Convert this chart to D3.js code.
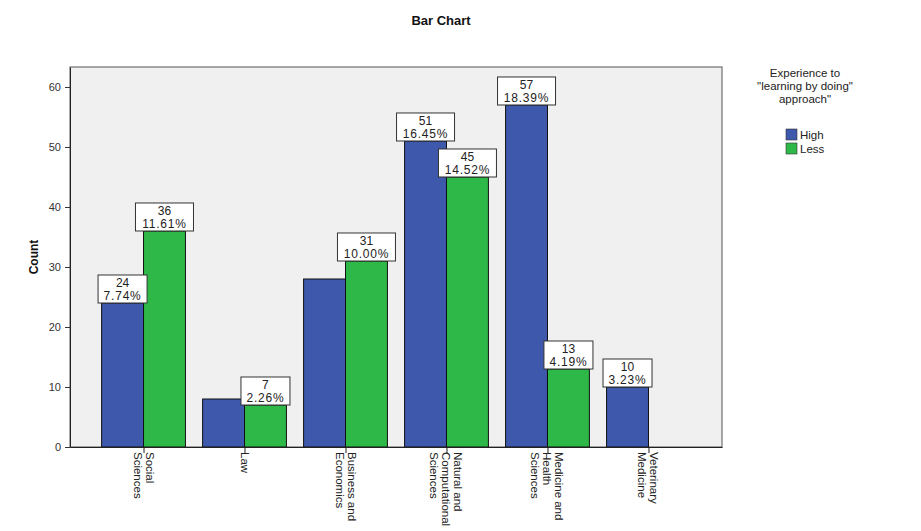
<!DOCTYPE html>
<html>
<head>
<meta charset="utf-8">
<script src="https://cdn.jsdelivr.net/npm/d3@7"></script>
<style>
  body { margin: 0; background: #ffffff; }
  svg { display: block; font-family: "Liberation Sans", Arial, sans-serif; }
</style>
</head>
<body>
<svg id="chart" width="921" height="531"></svg>
<script>
// ---- data ----
const categories = [
  "Social Sciences",
  "Law",
  "Business and Economics",
  "Natural and Computational Sciences",
  "Medicine and Health Sciences",
  "Veterinary Medicine"
];
const categoryLines = [
  ["Social", "Sciences"],
  ["Law"],
  ["Business and", "Economics"],
  ["Natural and", "Computational", "Sciences"],
  ["Medicine and", "Health", "Sciences"],
  ["Veterinary", "Medicine"]
];
const seriesNames = ["High", "Less"];
const highValues = [24, 8, 28, 51, 57, 10];
const lessValues = [36, 7, 31, 45, 13, 0];
// which bars carry a data label in the reference
const highLabelShown = [true, false, false, true, true, true];
const lessLabelShown = [true, true, true, true, true, false];
const yTicks = [0, 10, 20, 30, 40, 50, 60];
const yMax = 63.33;
const colors = ["#3e58ac", "#2eb848"];
const legendTitleLines = ["Experience to", "\"learning by doing\"", "approach\""];

// ---- layout ----
const svg = d3.select("#chart");
const plot = { left: 70, right: 722, top: 67, bottom: 447 };
const total = d3.sum(highValues) + d3.sum(lessValues);

const x = d3.scalePoint().domain(categories).range([plot.left, plot.right]).padding(0.728);
const barW = x.step() * 0.415;
const y = d3.scaleLinear().domain([0, yMax]).range([plot.bottom, plot.top]);

// title
svg.append("text").attr("x", 441).attr("y", 25).attr("text-anchor", "middle")
  .attr("font-size", 13).attr("font-weight", "bold").attr("fill", "#111").text("Bar Chart");

// plot background
svg.append("rect").attr("x", plot.left).attr("y", plot.top)
  .attr("width", plot.right - plot.left).attr("height", plot.bottom - plot.top)
  .attr("fill", "#f0f0f0").attr("stroke", "#555").attr("stroke-width", 1);

// bars
const bars = [];
categories.forEach((c, i) => {
  [highValues[i], lessValues[i]].forEach((v, s) => {
    if (v > 0) bars.push({ c, i, s, v, shown: s === 0 ? highLabelShown[i] : lessLabelShown[i] });
  });
});

svg.append("g").selectAll("rect").data(bars).join("rect")
  .attr("x", d => x(d.c) + (d.s === 0 ? -barW : 0))
  .attr("y", d => y(d.v))
  .attr("width", barW)
  .attr("height", d => y(0) - y(d.v))
  .attr("fill", d => colors[d.s])
  .attr("stroke", "#111").attr("stroke-width", 1);

// y axis
const yAxis = svg.append("g").attr("transform", `translate(${plot.left},0)`)
  .call(d3.axisLeft(y).tickValues(yTicks).tickSize(5).tickSizeOuter(0).tickPadding(4).tickFormat(d3.format("d")));
yAxis.select(".domain").attr("stroke", "#222");
yAxis.selectAll(".tick line").attr("stroke", "#333");
yAxis.selectAll(".tick text").attr("font-size", 11).attr("fill", "#333")
  .attr("font-family", "Liberation Sans, Arial, sans-serif");

// x axis
const xAxis = svg.append("g").attr("transform", `translate(0,${plot.bottom})`)
  .call(d3.axisBottom(x).tickSize(6).tickSizeOuter(0).tickFormat(""));
xAxis.select(".domain").attr("stroke", "#222");
xAxis.selectAll(".tick line").attr("stroke", "#222");

// x labels rotated 90 deg clockwise
const xl = svg.append("g");
categories.forEach((c, i) => {
  const lines = categoryLines[i];
  const n = lines.length;
  const g = xl.append("g").attr("transform", `translate(${x(c)},${plot.bottom + 5}) rotate(90)`);
  lines.forEach((ln, k) => {
    g.append("text").attr("x", 0).attr("y", (k - (n - 1) / 2) * 12 + 4)
      .attr("font-size", 11.5).attr("fill", "#222").text(ln);
  });
});

// y title
svg.append("text").attr("transform", `translate(38,${(plot.top + plot.bottom) / 2}) rotate(-90)`)
  .attr("text-anchor", "middle").attr("font-size", 12).attr("font-weight", "bold")
  .attr("fill", "#111").text("Count");

// data labels
const pct = d3.format(".2f");
const lbl = svg.append("g");
bars.filter(d => d.shown).forEach(d => {
  const cx = x(d.c) + (d.s === 0 ? -barW / 2 : barW / 2);
  const top = y(d.v);
  const t2 = pct(d.v / total * 100) + "%";
  const w = t2.length * 9 + 4;
  const h = 28;
  lbl.append("rect").attr("x", cx - w / 2).attr("y", top - h).attr("width", w).attr("height", h)
    .attr("fill", "#ffffff").attr("stroke", "#333").attr("stroke-width", 1);
  lbl.append("text").attr("x", cx).attr("y", top - h + 12).attr("text-anchor", "middle")
    .attr("font-size", 12).attr("fill", "#222").text(d.v);
  lbl.append("text").attr("x", cx).attr("y", top - 3).attr("text-anchor", "middle")
    .attr("font-size", 12).attr("letter-spacing", 0.8).attr("fill", "#222").text(t2);
});

// legend
const lg = svg.append("g");
legendTitleLines.forEach((t, k) => {
  lg.append("text").attr("x", 805).attr("y", 77 + k * 13).attr("text-anchor", "middle")
    .attr("font-size", 11.5).attr("fill", "#222").text(t);
});
seriesNames.forEach((s, k) => {
  lg.append("rect").attr("x", 786).attr("y", 129 + k * 14).attr("width", 11).attr("height", 11)
    .attr("fill", colors[k]).attr("stroke", "#333").attr("stroke-width", 0.6);
  lg.append("text").attr("x", 800).attr("y", 139 + k * 14).attr("font-size", 11.5)
    .attr("fill", "#222").text(s);
});
</script>
</body>
</html>
